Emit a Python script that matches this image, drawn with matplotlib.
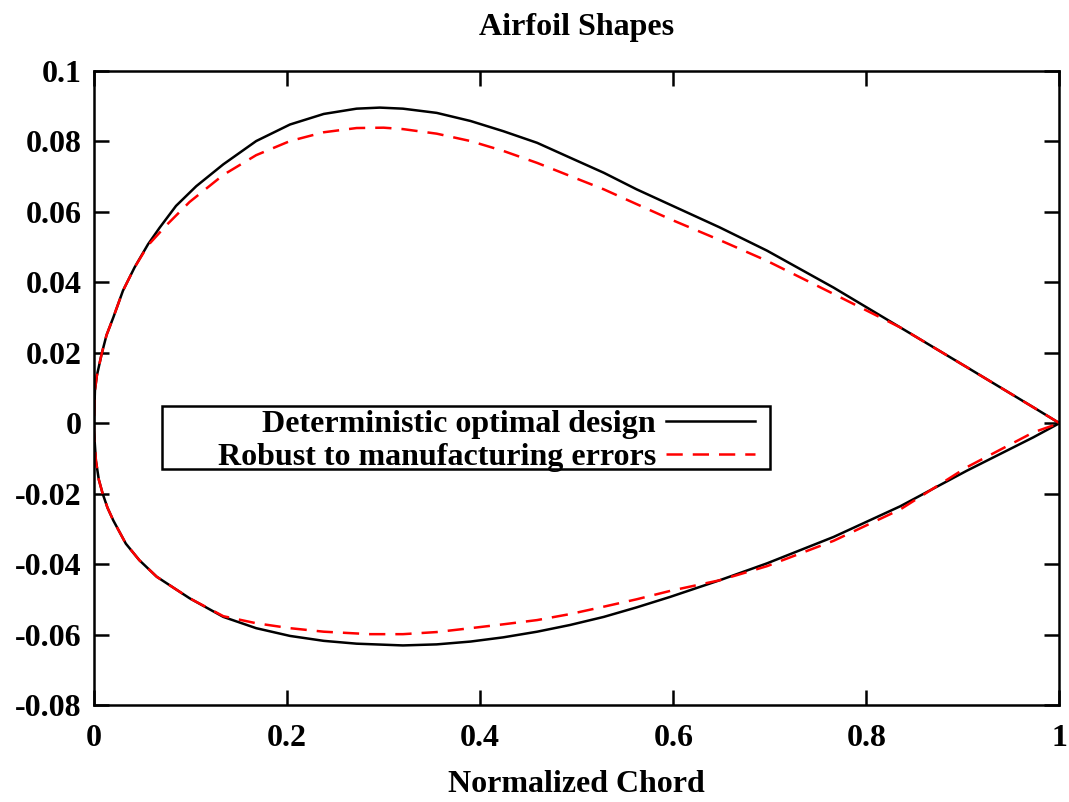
import matplotlib
matplotlib.use("Agg")
import matplotlib.pyplot as plt
from matplotlib.ticker import FuncFormatter
from matplotlib.patches import Rectangle

matplotlib.rcParams.update({
    'font.family': 'Liberation Serif',
    'font.weight': 'bold',
    'axes.unicode_minus': False,
})

# deterministic optimal design
det_upper_x = [0.0, 0.001, 0.003, 0.008, 0.013, 0.020, 0.030, 0.042, 0.056, 0.068, 0.085, 0.106, 0.134, 0.168,
               0.203, 0.238, 0.272, 0.296, 0.320, 0.355, 0.390, 0.424, 0.459, 0.493, 0.528,
               0.562, 0.597, 0.648, 0.697, 0.766, 0.835, 0.904, 0.973, 1.0]
det_upper_y = [0.0, 0.0093, 0.0135, 0.0197, 0.0250, 0.0300, 0.0376, 0.0442, 0.0508, 0.0555, 0.0617, 0.0673, 0.0735, 0.0801,
               0.0848, 0.0878, 0.0893, 0.0896, 0.0893, 0.0881, 0.0858, 0.0829, 0.0796, 0.0754, 0.0711,
               0.0664, 0.0620, 0.0556, 0.0490, 0.0385, 0.0272, 0.0159, 0.0045, 0.0]
det_lower_x = [0.0, 0.0, 0.002, 0.005, 0.009, 0.014, 0.020, 0.033, 0.047, 0.065, 0.099, 0.134, 0.168, 0.203,
               0.238, 0.272, 0.320, 0.355, 0.390, 0.424, 0.459, 0.493, 0.528, 0.562, 0.597,
               0.648, 0.697, 0.766, 0.835, 0.904, 0.973, 1.0]
det_lower_y = [0.0, -0.0021, -0.0106, -0.0160, -0.0200, -0.0240, -0.0276, -0.0342, -0.0389, -0.0436, -0.0497, -0.0550, -0.0582, -0.0604,
               -0.0618, -0.0626, -0.0631, -0.0628, -0.0620, -0.0608, -0.0592, -0.0573, -0.0550, -0.0523, -0.0493,
               -0.0446, -0.0398, -0.0323, -0.0236, -0.0135, -0.0040, 0.0]

# robust to manufacturing errors
rob_upper_x = [0.0, 0.001, 0.003, 0.008, 0.013, 0.020, 0.030, 0.042, 0.056, 0.075, 0.099, 0.134, 0.168, 0.203,
               0.238, 0.272, 0.300, 0.320, 0.355, 0.390, 0.424, 0.459, 0.493, 0.528, 0.562,
               0.597, 0.648, 0.697, 0.766, 0.835, 0.904, 0.973, 1.0]
rob_upper_y = [0.0, 0.0093, 0.0135, 0.0197, 0.0250, 0.0300, 0.0376, 0.0442, 0.0505, 0.0562, 0.0628, 0.0705, 0.0761, 0.0801,
               0.0826, 0.0838, 0.0839, 0.0835, 0.0822, 0.0801, 0.0773, 0.0739, 0.0702, 0.0664, 0.0622,
               0.0579, 0.0520, 0.0461, 0.0367, 0.0272, 0.0159, 0.0045, 0.0]
rob_lower_x = [0.0, 0.0, 0.002, 0.005, 0.009, 0.014, 0.020, 0.033, 0.047, 0.065, 0.099, 0.134, 0.168, 0.203,
               0.238, 0.272, 0.286, 0.320, 0.355, 0.390, 0.424, 0.459, 0.493, 0.528, 0.562,
               0.597, 0.648, 0.697, 0.766, 0.835, 0.904, 0.973, 1.0]
rob_lower_y = [0.0, -0.0021, -0.0106, -0.0160, -0.0200, -0.0240, -0.0276, -0.0342, -0.0389, -0.0436, -0.0497, -0.0548, -0.0568, -0.0582,
               -0.0592, -0.0597, -0.0599, -0.0599, -0.0593, -0.0582, -0.0571, -0.0559, -0.0542, -0.0521, -0.0500,
               -0.0476, -0.0446, -0.0406, -0.0334, -0.0245, -0.0125, -0.0026, 0.0]

x_ticks = [0, 0.2, 0.4, 0.6, 0.8, 1]
y_ticks = [-0.08, -0.06, -0.04, -0.02, 0, 0.02, 0.04, 0.06, 0.08, 0.1]

# closed outline: trailing edge -> upper -> leading edge -> lower -> trailing edge
det_x = det_upper_x[::-1] + det_lower_x[1:]
det_y = det_upper_y[::-1] + det_lower_y[1:]
rob_x = rob_upper_x[::-1] + rob_lower_x[1:]
rob_y = rob_upper_y[::-1] + rob_lower_y[1:]

fig = plt.figure(figsize=(10.69, 8.02), dpi=100)
ax = fig.add_axes([0.0879, 0.121, 0.9032, 0.7905])

fs = 23
ax.plot(det_x, det_y, color='black', lw=1.8, label='Deterministic optimal design')
ax.plot(rob_x, rob_y, color='#ff0000', lw=1.8, dashes=(6.5, 4), label='Robust to manufacturing errors')

ax.set_xlim(0, 1)
ax.set_ylim(-0.08, 0.1)
ax.set_xticks(x_ticks)
ax.set_yticks(y_ticks)
fmt = FuncFormatter(lambda v, p: '%g' % round(v, 4))
ax.xaxis.set_major_formatter(fmt)
ax.yaxis.set_major_formatter(fmt)
ax.tick_params(direction='in', length=11, width=1.8, top=True, right=True,
               labelsize=fs, pad=9)
ax.tick_params(axis='x', pad=14)
for s in ax.spines.values():
    s.set_linewidth(1.8)

ax.set_title('Airfoil Shapes', fontsize=fs, fontweight='bold', pad=26)
ax.set_xlabel('Normalized Chord', fontsize=fs, fontweight='bold', labelpad=12)

# gnuplot-style key box, wider than its contents
ax.add_patch(Rectangle((0.0704, 0.3722), 0.6296, 0.0994, transform=ax.transAxes,
                       facecolor='white', edgecolor='black', lw=1.8, zorder=4))
leg = ax.legend(loc='upper right', bbox_to_anchor=(0.6846, 0.4653), borderaxespad=0,
                markerfirst=False, frameon=False, fontsize=fs, handlelength=2.8,
                handletextpad=0.3, borderpad=0, labelspacing=0.1)
leg.set_zorder(5)

fig.savefig('out.png', dpi=100)
